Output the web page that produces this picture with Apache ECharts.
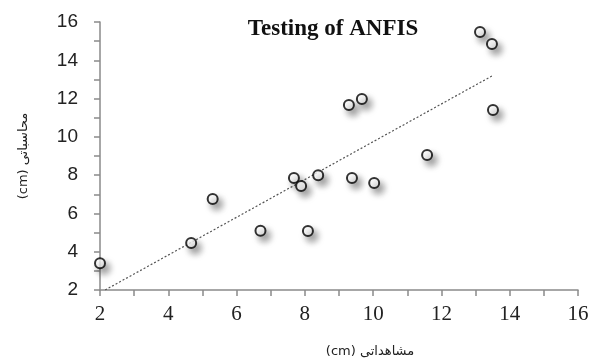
<!DOCTYPE html>
<html>
<head>
<meta charset="utf-8">
<script src="https://cdn.jsdelivr.net/npm/echarts@6/dist/echarts.min.js"></script>
<style>
  html, body { margin: 0; padding: 0; background: #fff; }
  #chart { width: 593px; height: 364px; }
</style>
</head>
<body>
<div id="chart"></div>
<script>
var observed = [2.0, 4.67, 5.3, 6.7, 7.68, 7.89, 8.09, 8.39, 9.29, 9.67, 9.38, 10.03, 11.58, 13.13, 13.48, 13.51];
var computed = [3.4, 4.45, 6.75, 5.1, 7.85, 7.43, 5.08, 8.0, 11.67, 11.98, 7.85, 7.59, 9.05, 15.48, 14.85, 11.4];
// trend line end points
var trendX = [2.15, 13.48];
var trendY = [2.0, 13.18];

var titleText = 'Testing of ANFIS';
var xName = '(cm) مشاهداتی';
var yName = '(cm) محاسباتی';

var chart = echarts.init(document.getElementById('chart'));

var points = observed.map(function (x, i) { return [x, computed[i]]; });
var trend = trendX.map(function (x, i) { return [x, trendY[i]]; });

chart.setOption({
  animation: false,
  title: {
    text: titleText,
    left: 328,
    top: 13,
    textAlign: 'center',
    textStyle: { fontFamily: 'Liberation Serif', fontWeight: 'bold', fontSize: 23, color: '#111' }
  },
  grid: { left: 100, right: 15, top: 22, bottom: 74 },
  xAxis: {
    type: 'value',
    min: 2, max: 16, interval: 1,
    name: xName,
    nameLocation: 'middle',
    nameGap: 55,
    nameTextStyle: { fontFamily: 'DejaVu Sans', fontSize: 13, color: '#222', padding: [0, 0, 0, 62] },
    axisLine: { show: true, lineStyle: { color: '#8a8a8a', width: 1.5 } },
    axisTick: { show: true, inside: false, length: 6, lineStyle: { color: '#8a8a8a', width: 1.5 } },
    axisLabel: {
      margin: 14,
      fontFamily: 'Liberation Serif', fontSize: 21, color: '#222',
      formatter: function (v) { return v % 2 === 0 ? v : ''; }
    },
    splitLine: { show: false }
  },
  yAxis: {
    type: 'value',
    min: 2, max: 16, interval: 1,
    name: yName,
    nameLocation: 'middle',
    nameGap: 70,
    nameRotate: 90,
    nameTextStyle: { fontFamily: 'DejaVu Sans', fontSize: 13, color: '#222' },
    axisLine: { show: true, lineStyle: { color: '#8a8a8a', width: 1.5 } },
    axisTick: { show: true, inside: false, length: 6, lineStyle: { color: '#8a8a8a', width: 1.5 } },
    axisLabel: {
      margin: 22,
      fontFamily: 'Liberation Sans', fontSize: 19, color: '#222',
      formatter: function (v) { return v % 2 === 0 ? v : ''; }
    },
    splitLine: { show: false }
  },
  series: [{
    type: 'line',
    data: trend,
    symbol: 'none',
    lineStyle: { color: '#555', width: 1.2, type: [2, 2] },
    z: 1
  }, {
    type: 'scatter',
    data: points,
    symbol: 'circle',
    symbolSize: 10,
    itemStyle: {
      color: '#fff',
      borderColor: '#000',
      borderWidth: 2,
      shadowColor: 'rgba(0,0,0,0.5)',
      shadowBlur: 7,
      shadowOffsetX: 4,
      shadowOffsetY: 5
    },
    z: 2
  }]
});
</script>
</body>
</html>
